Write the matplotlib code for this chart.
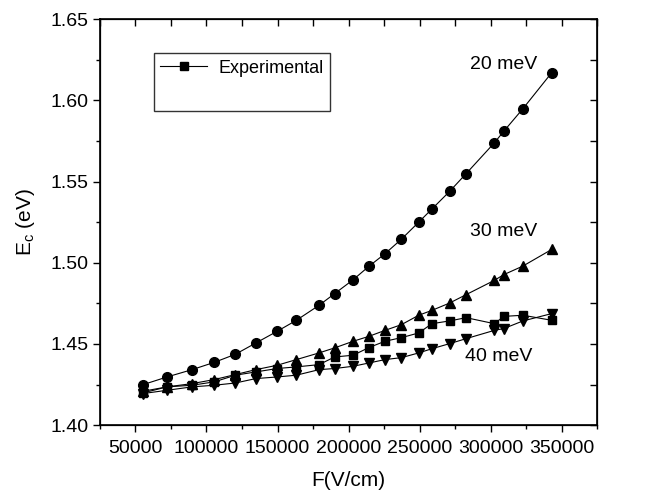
import numpy as np
import matplotlib.pyplot as plt
from matplotlib.ticker import MultipleLocator, FormatStrFormatter
from matplotlib.lines import Line2D

plt.rcParams['font.family'] = ['Liberation Sans', 'DejaVu Sans']

# field values (V/cm), shared by all curves
field = [55400, 72200, 89800, 105500, 120400, 134700, 149700, 163300, 179200, 190200,
         203300, 214300, 225700, 237200, 249400, 258700, 271100, 282800, 302700, 309300,
         322800, 343000]

e_20mev = [1.425, 1.4297, 1.4342, 1.4387, 1.4437, 1.4506, 1.4578, 1.4646, 1.4738, 1.481,
           1.4896, 1.4978, 1.5056, 1.5145, 1.525, 1.5331, 1.5439, 1.5549, 1.5739, 1.581,
           1.5949, 1.617]
e_30mev = [1.4209, 1.4236, 1.4256, 1.4281, 1.4312, 1.4342, 1.4369, 1.4404, 1.4445, 1.4476,
           1.4517, 1.4547, 1.4584, 1.4619, 1.4677, 1.4707, 1.4752, 1.4804, 1.4892, 1.4927,
           1.498, 1.5082]
e_exp = [1.4199, 1.4236, 1.4246, 1.4267, 1.4308, 1.4328, 1.4349, 1.4359, 1.4373, 1.442,
         1.4431, 1.4478, 1.4517, 1.4539, 1.4568, 1.4625, 1.4642, 1.4662, 1.4625, 1.467,
         1.4677, 1.4646]
e_40mev = [1.4195, 1.4215, 1.4236, 1.4246, 1.426, 1.4287, 1.4297, 1.4308, 1.4342, 1.4349,
           1.4363, 1.4383, 1.4404, 1.4416, 1.4445, 1.4471, 1.4502, 1.4533, 1.4584, 1.4595,
           1.4642, 1.4687]

fig = plt.figure(figsize=(6.62, 4.91), dpi=100)
ax = fig.add_axes([0.151, 0.134, 0.751, 0.827])

kw = dict(color='black', lw=0.8, ms=7)
ax.plot(field, e_20mev, marker='o', **kw)
ax.plot(field, e_30mev, marker='^', **kw)
ax.plot(field, e_40mev, marker='v', **kw)
ax.plot(field, e_exp, marker='s', ms=6, color='black', lw=0.8)

ax.set_xlim(25000, 375000)
ax.set_ylim(1.40, 1.65)
ax.xaxis.set_major_locator(MultipleLocator(50000))
ax.xaxis.set_minor_locator(MultipleLocator(25000))
ax.yaxis.set_major_locator(MultipleLocator(0.05))
ax.yaxis.set_minor_locator(MultipleLocator(0.025))
ax.yaxis.set_major_formatter(FormatStrFormatter('%.2f'))
ax.tick_params(which='major', direction='out', length=5, width=1, labelsize=14, pad=3)
ax.tick_params(axis='x', which='major', pad=6)
ax.tick_params(which='minor', direction='out', length=3, width=1)
for s in ax.spines.values():
    s.set_linewidth(1.2)

# top / right ticks pointing inward
axt = ax.twiny()
axt.set_xlim(ax.get_xlim())
axt.xaxis.set_major_locator(MultipleLocator(50000))
axt.xaxis.set_minor_locator(MultipleLocator(25000))
axt.tick_params(which='both', direction='in', labeltop=False, length=5, width=1)
axr = ax.twinx()
axr.set_ylim(ax.get_ylim())
axr.yaxis.set_major_locator(MultipleLocator(0.05))
axr.yaxis.set_minor_locator(MultipleLocator(0.025))
axr.tick_params(which='both', direction='in', labelright=False, length=5, width=1)

ax.set_xlabel('F(V/cm)', fontsize=15, labelpad=10)
ax.set_ylabel('E$_\\mathregular{c}$ (eV)', fontsize=15, labelpad=10)

ax.text(309000, 1.622, '20 meV', fontsize=14, ha='center', va='center')
ax.text(309000, 1.519, '30 meV', fontsize=14, ha='center', va='center')
ax.text(306000, 1.442, '40 meV', fontsize=14, ha='center', va='center')

h1 = Line2D([], [], color='black', lw=0.8, marker='s', ms=6)
h2 = Line2D([], [], color='none')
leg = ax.legend([h1, h2], ['Experimental', ' '], loc='upper left',
                bbox_to_anchor=(0.109, 0.916), borderaxespad=0, fontsize=13,
                frameon=True, fancybox=False, edgecolor='black', borderpad=0.35,
                handlelength=2.6, handletextpad=0.6, labelspacing=0.6)
leg.get_frame().set_linewidth(1.0)

plt.savefig('out.png', dpi=100)
